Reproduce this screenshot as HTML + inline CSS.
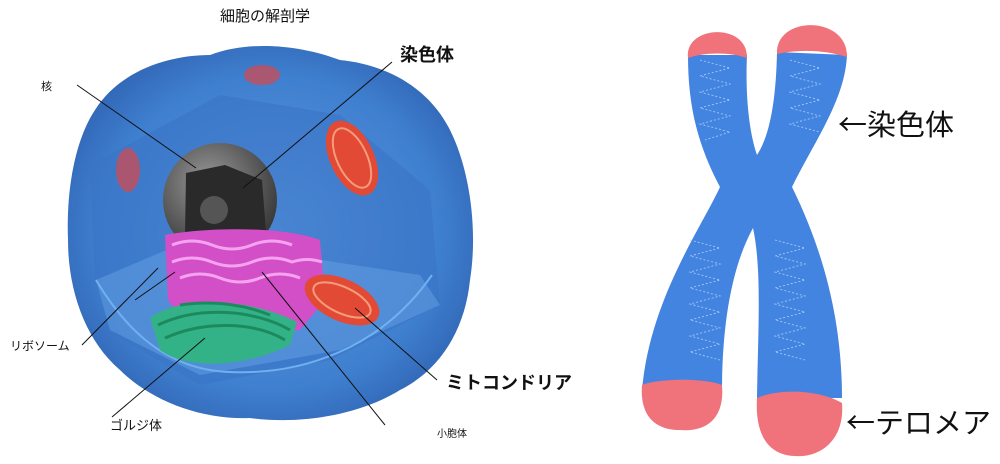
<!DOCTYPE html>
<html><head><meta charset="utf-8"><style>
html,body{margin:0;padding:0;background:#fff;}
svg{display:block;}
text{font-family:"Liberation Sans","Noto Sans CJK JP",sans-serif;fill:#111;}
text.cjk{font-family:"Noto Sans CJK JP",sans-serif;}
</style></head><body>
<svg width="1000" height="464" viewBox="0 0 1000 464" xmlns="http://www.w3.org/2000/svg">
<defs>
<radialGradient id="cg" cx="50%" cy="50%" r="60%">
<stop offset="0" stop-color="#5a9be0"/><stop offset="0.7" stop-color="#3f7fcf"/><stop offset="1" stop-color="#2d5fae"/>
</radialGradient>
<radialGradient id="ng" cx="40%" cy="35%" r="70%">
<stop offset="0" stop-color="#9a9a9a"/><stop offset="1" stop-color="#333"/>
</radialGradient>
</defs>
<path d="M95,110 C120,70 170,55 210,55 C250,40 300,45 340,60 C390,65 430,90 450,130 C470,170 478,230 470,280 C465,330 440,370 400,390 C360,415 300,425 250,418 C200,420 150,400 120,370 C85,340 68,290 68,240 C66,190 75,140 95,110Z" fill="url(#cg)"/>
<path d="M90,165 L220,95 L340,115 L430,190 L440,305 L330,360 L200,385 L115,335 L95,280Z" fill="#3a72c4" opacity="0.55"/>
<path d="M96,280 L190,240 L420,275 L440,305 L340,350 L200,375 L110,330Z" fill="#6aa6e6" opacity="0.45"/>
<path d="M96,280 C120,320 160,370 230,372 C300,375 380,350 432,275" fill="none" stroke="#6fb0f0" stroke-width="2"/>
<circle cx="220" cy="200" r="57" fill="url(#ng)"/>
<path d="M186,173 L225,165 L262,180 L266,232 L185,235Z" fill="#2a2a2a"/>
<circle cx="214" cy="210" r="14" fill="#555"/>
<path d="M165,235 C200,228 280,225 320,240 L325,300 L300,330 L190,330 L168,300Z" fill="#d24fc8"/>
<g fill="none" stroke="#f5a3ef" stroke-width="3">
<path d="M172,245 q20,-8 40,0 q20,8 40,0 q20,-8 40,0"/>
<path d="M172,262 q20,-8 40,0 q20,8 40,0 q20,-8 40,0 q15,-5 30,0"/>
<path d="M180,278 q20,-8 40,0 q20,8 40,0 q20,-8 40,0"/>
</g>
<path d="M150,318 C180,295 250,298 297,322 L290,345 C250,365 190,372 160,350Z" fill="#34b287"/>
<g fill="none" stroke="#1d8a5e" stroke-width="3">
<path d="M158,325 C200,305 255,310 290,330"/>
<path d="M165,338 C205,320 255,322 285,340"/>
<path d="M180,305 C215,300 245,305 270,315"/>
</g>
<ellipse cx="352" cy="158" rx="22" ry="40" transform="rotate(-25 352 158)" fill="#e24a36"/>
<ellipse cx="352" cy="158" rx="15" ry="32" transform="rotate(-25 352 158)" fill="none" stroke="#f39d7a" stroke-width="2"/>
<ellipse cx="342" cy="300" rx="40" ry="21" transform="rotate(25 342 300)" fill="#e24a36"/>
<ellipse cx="342" cy="300" rx="31" ry="13" transform="rotate(25 342 300)" fill="none" stroke="#f39d7a" stroke-width="2"/>
<ellipse cx="262" cy="75" rx="18" ry="10" fill="#d9474a" opacity="0.7"/>
<ellipse cx="128" cy="170" rx="12" ry="22" fill="#d9474a" opacity="0.7"/>
<g stroke="#111" stroke-width="1">
<line x1="77" y1="85" x2="196" y2="168"/>
<line x1="392" y1="62" x2="243" y2="188"/>
<line x1="82" y1="345" x2="158" y2="268"/>
<line x1="135" y1="300" x2="175" y2="272"/>
<line x1="112" y1="417" x2="205" y2="338"/>
<line x1="385" y1="425" x2="262" y2="272"/>
<line x1="437" y1="380" x2="355" y2="308"/>
</g>
<text x="265" y="21" font-size="15" text-anchor="middle">細胞の解剖学</text>
<text x="400" y="61" font-size="18" font-weight="bold">染色体</text>
<text x="41" y="90" font-size="11">核</text>
<text x="10" y="350" font-size="12">リボソーム</text>
<text x="110" y="430" font-size="13">ゴルジ体</text>
<text x="446" y="389" font-size="18" font-weight="bold">ミトコンドリア</text>
<text x="437" y="437" font-size="10">小胞体</text>
<path d="M688,55 C688,100 695,140 720,187 C700,230 650,300 642,390 L722,392 C722,330 730,270 753,228 C762,270 758,330 757,398 L842,398 C842,330 828,260 792,187 C815,140 845,100 847,55 L777,52 C776,100 770,135 757,155 C750,135 745,100 747,55Z" fill="#4384e0"/>
<path d="M688,58 C684,25 748,22 747,58 C730,52 705,52 688,58Z" fill="#f0727a"/>
<path d="M777,54 C775,15 848,15 847,57 C825,50 800,49 777,54Z" fill="#f0727a"/>
<path d="M642,385 C660,378 705,378 722,385 C725,420 705,432 680,430 C650,430 640,410 642,385Z" fill="#f0727a"/>
<path d="M757,398 C780,388 820,390 842,403 C845,440 820,458 795,456 C765,455 755,430 757,398Z" fill="#f0727a"/>
<g fill="none" stroke="#a9d0ff" stroke-width="0.8" stroke-dasharray="2,2">
<path d="M700,60 l30,8 l-30,8 l30,8 l-30,8 l30,8 l-30,8 l30,8 l-30,8 l30,8 l-25,8"/>
<path d="M790,60 l30,8 l-30,8 l30,8 l-30,8 l30,8 l-30,8 l30,8 l-30,8 l30,8"/>
<path d="M690,240 l30,8 l-30,8 l30,8 l-30,8 l30,8 l-30,8 l30,8 l-30,8 l30,8 l-30,8 l30,8 l-30,8 l30,8 l-30,8 l30,8"/>
<path d="M775,240 l30,8 l-30,8 l30,8 l-30,8 l30,8 l-30,8 l30,8 l-30,8 l30,8 l-30,8 l30,8 l-30,8 l30,8 l-30,8 l30,8"/>
</g>
<text class="cjk" x="838" y="135" font-size="29">←染色体</text>
<text class="cjk" x="846" y="433" font-size="29">←テロメア</text>
</svg>
</body></html>
